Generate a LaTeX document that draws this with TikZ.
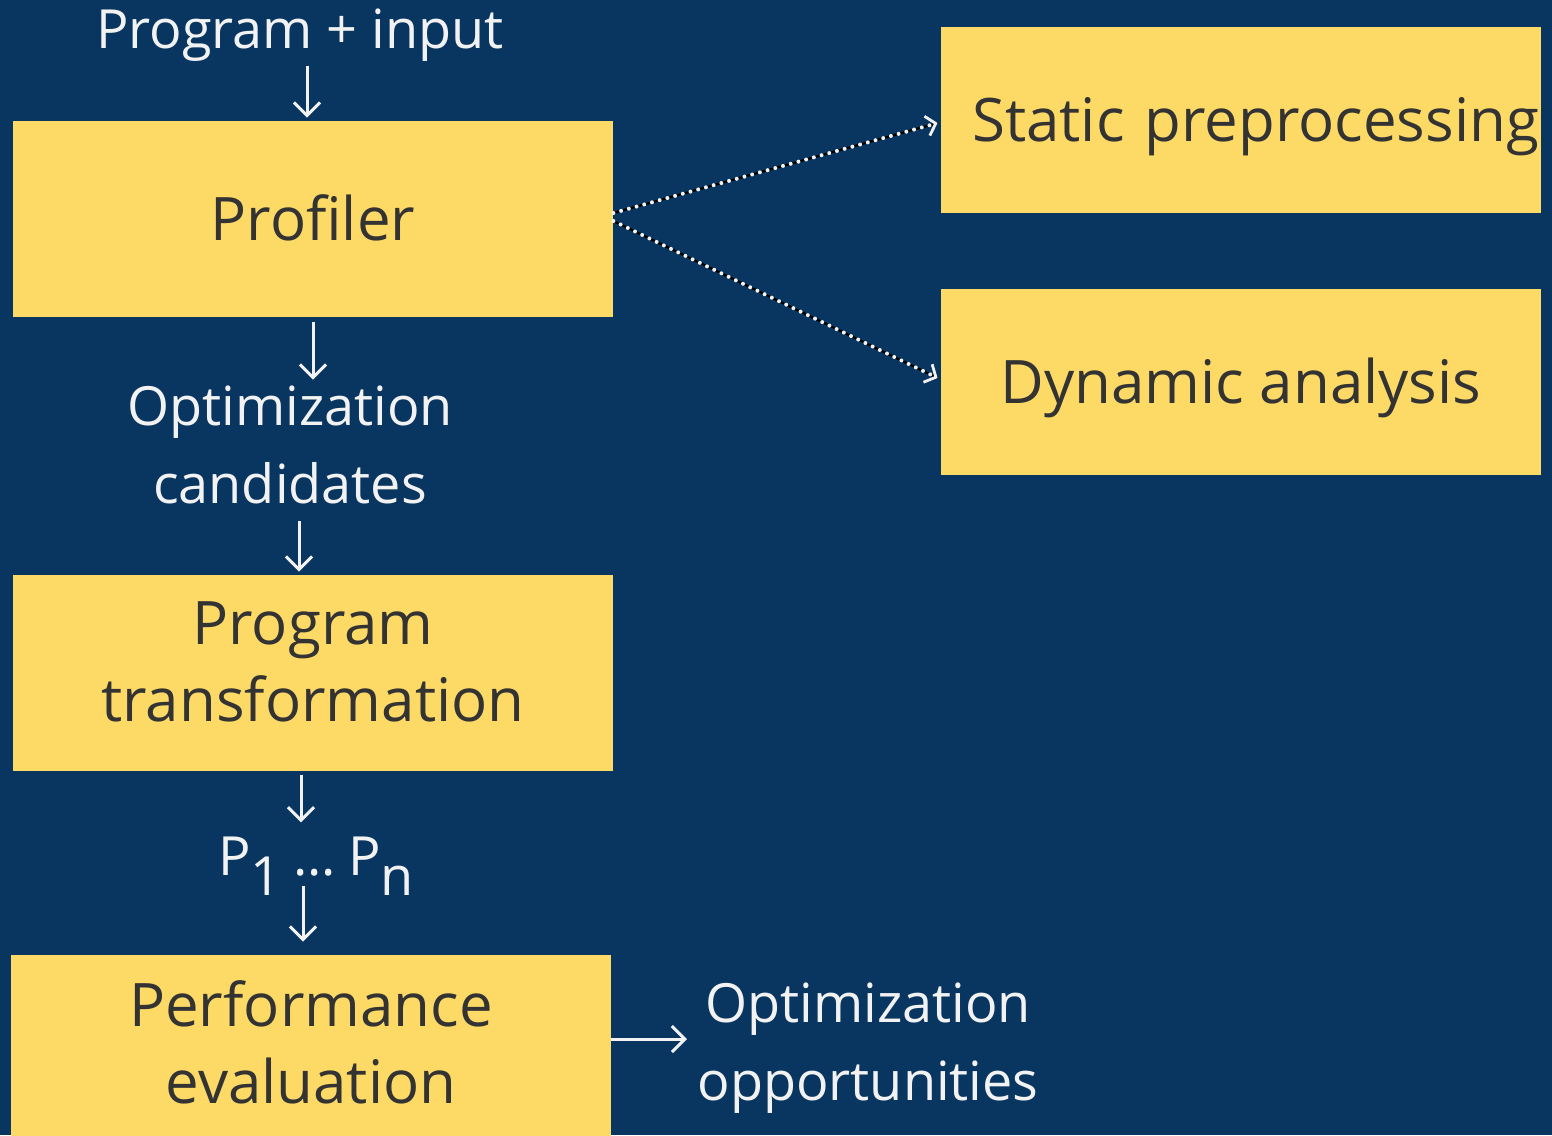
\documentclass[tikz,border=0pt]{standalone}
\usepackage{fontspec}
\setmainfont{Open Sans}
\usetikzlibrary{arrows.meta}

\definecolor{navy}{HTML}{083660}
\definecolor{boxyellow}{HTML}{FDD966}
\definecolor{boxtext}{HTML}{333333}
\definecolor{labeltext}{HTML}{F2F2F2}

\tikzstyle{arrow} = [line width=1.5pt, draw=labeltext, -{Straight Barb[length=6.5pt,width=13pt]}]
\tikzstyle{dotarrow} = [
        line width=2pt,
        draw=labeltext,
        line cap=round,
        dash pattern=on 0pt off 4pt,
        preaction={draw=black, line width=1.1pt, solid, -},
        -{Straight Barb[length=4.5pt,width=10pt,line width=1.4pt,line cap=butt]}
    ]
\tikzstyle{block} = [
        rectangle,
        minimum width=300pt,
        minimum height=98pt,
        text centered,
        align=center,
        fill=boxyellow,
        text=boxtext,
        font=\fontsize{30}{38.5}\selectfont
    ]
\tikzstyle{oneline} = [text height=22pt, text depth=1pt]
\tikzstyle{twoline} = [text depth=11pt]
\tikzstyle{caption} = [
        align=center,
        inner sep=0pt,
        text=labeltext,
        font=\fontsize{27}{39}\selectfont
    ]

\begin{document}
\begin{tikzpicture}[x=0.5pt,y=-0.5pt]
        \fill [navy] (0,0) rectangle (1552,1135);
        \useasboundingbox (0,0) rectangle (1552,1135);

        \node (input) [caption] at (300,35) {Program + input};

        \node (profiler) [block, oneline] at (313,219) {Profiler};

        \node (static) [%
            block,%
            oneline,%
            minimum height=93pt,%
            text width=298pt,%
            inner xsep=1pt,%
            align=right%
            ] at (1241,120) {Static preprocessing};

        \node (dynamic) [%
            block,%
            oneline,%
            minimum height=93pt%
            ] at (1241,382) {Dynamic analysis};

        \node (candidates) [caption] at (290,445) {Optimization\\candidates};

        \node (transform) [block, twoline] at (313,673) {Program\\transformation};

        \node (variants) [caption] at (316,866)
            {P\raisebox{-10pt}{1}\hspace{6pt}…\hspace{6pt}P\raisebox{-10pt}{n}};

        \node (evaluation) [block, twoline] at (311,1053) {Performance\\evaluation};

        \node (opportunities) [caption] at (868,1048) {Optimization\\opportunities};

        \draw [arrow] ([xshift=3.5pt,yshift=-2pt]input.south) -- ([xshift=-3pt,yshift=1.5pt]transform.north |- profiler.north);
        \draw [arrow] ([yshift=-2.5pt]profiler.south) -- ([xshift=11.5pt,yshift=3pt]candidates.north);
        \draw [arrow] ([xshift=4.5pt,yshift=-8.5pt]candidates.south) -- ([xshift=-7pt,yshift=1.5pt]transform.north);
        \draw [arrow] ([xshift=-6pt,yshift=-2pt]transform.south) -- ([xshift=-6pt,yshift=7pt]transform.south |- variants.north);
        \draw [arrow] ([xshift=-6.5pt,yshift=5pt]variants.south) -- ([xshift=-4pt,yshift=6.5pt]evaluation.north);
        \draw [arrow] ([yshift=7pt]evaluation.east) -- ([xshift=-5pt,yshift=7pt]evaluation.east -| opportunities.west);

        \draw [dotarrow] ([yshift=3pt]profiler.east) -- ([yshift=-1.5pt,xshift=-1.5pt]static.west);
        \draw [dotarrow] ([yshift=-1pt]profiler.east) -- ([yshift=2pt,xshift=-1.5pt]dynamic.west);

    \end{tikzpicture}
\end{document}
